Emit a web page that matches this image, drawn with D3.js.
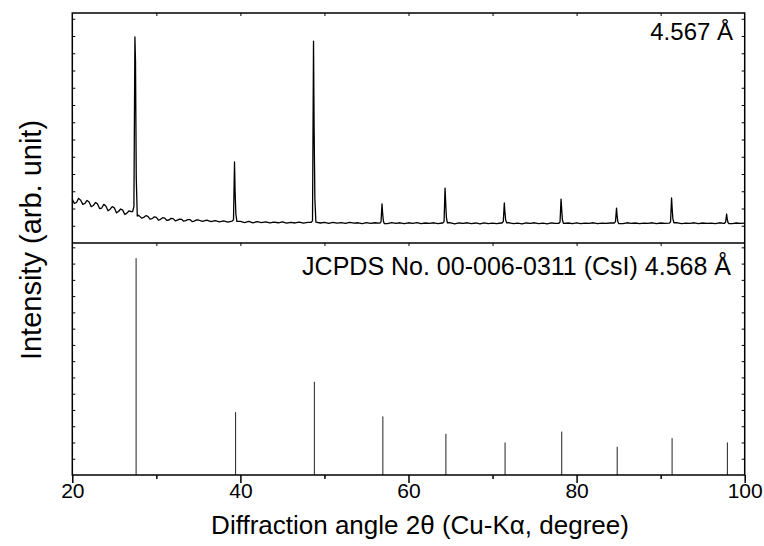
<!DOCTYPE html>
<html>
<head>
<meta charset="utf-8">
<script src="https://cdn.jsdelivr.net/npm/d3@7"></script>
<style>
  body { margin: 0; background: #fff; }
  text { font-family: "Liberation Sans", Arial, sans-serif; fill: #000; }
</style>
</head>
<body>
<div id="chart"></div>
<script>
var w = 764; var h = 546;

// measured scan, 20 - 100 deg every 0.5 deg (counts)
var scanStart = 20, scanStep = 0.5;
var scanCounts = [
	190,176,186,172,178,163,170,152,160,147,
	153,137,143,130,136,128,117,111,116,106,
	111,103,108,100,106,99,103,97,102,95,
	100,94,99,93,97,92,96,91,95,92,
	94,89,94,88,93,89,92,87,91,88,
	92,86,90,87,91,86,90,88,91,87,
	90,85,90,86,89,85,90,86,88,84,
	89,85,88,86,87,84,89,85,88,84,
	88,85,89,84,87,85,88,84,87,86,
	88,83,87,85,88,84,87,83,88,84,
	86,84,87,85,88,84,86,83,87,85,
	88,84,86,83,87,85,86,85,87,84,
	88,84,86,85,88,84,86,85,87,85,
	86,84,88,85,87,84,86,85,88,84,
	87,85,86,85,88,84,86,85,88,84,
	87,85,86,84,88,85,86,84,87,85,
	86
];
// in-between readings of the noisy low-angle part, 20.25 - 34.75 deg
var fineStart = 20.25, fineStep = 0.5;
var fineCounts = [
	172,194,168,185,158,176,150,168,140,158,
	131,148,124,140,128,122,108,119,104,114,
	99,110,98,107,96,104,95,102,93,100
];

// measured peaks (top panel)
var peakAngles = [27.45, 39.3, 48.7, 56.85, 64.35, 71.4, 78.15, 84.75, 91.3, 97.85];
var peakTops = [896, 353, 878, 170, 239, 174, 191, 152, 196, 126];
var peakShoulders = [790, 222, 500, 130, 178, 135, 150, 118, 150, 105];

// JCPDS 00-006-0311 reference lines (bottom panel)
var refAngles = [27.59, 39.43, 48.8, 56.95, 64.45, 71.49, 78.23, 84.83, 91.36, 97.94];
var refHeights = [100, 29, 43, 27, 19, 15, 20, 13, 17, 15];

var xTicks = [20, 40, 60, 80, 100];
var xMinor = [30, 50, 70, 90];

var pLeft = 72.3, pRight = 744.7, pTop = 13, pMid = 243, pBottom = 475;

var x = d3.scaleLinear().domain([20, 100]).range([pLeft, pRight]);
var yTop = d3.scaleLinear().domain([0, 1000]).range([pMid, pTop]);
var yBot = d3.scaleLinear().domain([0, 107]).range([pBottom, pMid]);

var svg = d3.select('#chart')
			.append('svg')
			.attr('width', w)
			.attr('height', h);

// build the scan line points
var pts = [];
function addScan(counts, start, step) {
	counts.forEach(function(c, i) {
		var a = start + i * step;
		var near = peakAngles.some(function(p) { return Math.abs(a - p) <= 0.3; });
		if (!near) pts.push([a, c]);
	});
}
addScan(scanCounts, scanStart, scanStep);
addScan(fineCounts, fineStart, fineStep);

peakAngles.forEach(function(a, i) {
	var iL = Math.floor((a - 0.3 - scanStart) / scanStep);
	var iR = Math.ceil((a + 0.3 - scanStart) / scanStep);
	var bL = scanCounts[iL], bR = scanCounts[iR];
	var lift = a < 30 ? 22 : 6;
	pts.push([a - 0.28, bL]);
	pts.push([a - 0.12, bL + lift]);
	pts.push([a, peakTops[i]]);
	pts.push([a + 0.07, peakShoulders[i]]);
	pts.push([a + 0.16, bR + (peakShoulders[i] - bR) * 0.25]);
	pts.push([a + 0.28, bR]);
});
pts.sort(function(p, q) { return p[0] - q[0]; });

var line = d3.line()
			.x(function(d) { return x(d[0]); })
			.y(function(d) { return yTop(d[1]); });

svg.append('path')
	.datum(pts)
	.attr('d', line)
	.attr('fill', 'none')
	.attr('stroke', '#000')
	.attr('stroke-width', 1.3)
	.attr('stroke-linejoin', 'round');

// reference sticks
svg.selectAll('line.stick')
	.data(refAngles)
	.enter()
	.append('line')
	.attr('class', 'stick')
	.attr('x1', function(d) { return x(d); })
	.attr('x2', function(d) { return x(d); })
	.attr('y1', yBot(0))
	.attr('y2', function(d, i) { return yBot(refHeights[i]); })
	.attr('stroke', '#222')
	.attr('stroke-width', 1);

// frame and divider
svg.append('rect')
	.attr('x', pLeft).attr('y', pTop)
	.attr('width', pRight - pLeft).attr('height', pBottom - pTop)
	.attr('fill', 'none').attr('stroke', '#000').attr('stroke-width', 1.5);
svg.append('line')
	.attr('x1', pLeft).attr('x2', pRight)
	.attr('y1', pMid).attr('y2', pMid)
	.attr('stroke', '#000').attr('stroke-width', 1.5);

function noDomain(g) { g.select('.domain').remove(); }

// bottom axis
svg.append('g')
	.attr('transform', 'translate(0,' + pBottom + ')')
	.call(d3.axisBottom(x).tickValues(xTicks).tickSize(8).tickPadding(3))
	.call(noDomain)
	.call(function(g) {
		g.selectAll('line').attr('stroke', '#000').attr('stroke-width', 1.5);
		g.selectAll('text').attr('font-size', 21).attr('fill', '#000')
			.attr('font-family', '"Liberation Sans", Arial, sans-serif')
			.attr('dy', null).attr('y', 23);
	});
svg.append('g')
	.attr('transform', 'translate(0,' + pBottom + ')')
	.call(d3.axisBottom(x).tickValues(xMinor).tickSize(4).tickFormat(''))
	.call(noDomain)
	.selectAll('line').attr('stroke', '#000').attr('stroke-width', 1.5);

// small inward ticks on the other edges
[pTop, pMid].forEach(function(yy) {
	svg.append('g')
		.attr('transform', 'translate(0,' + yy + ')')
		.call(d3.axisTop(x).tickValues(d3.range(30, 100, 10)).tickSize(-3).tickFormat(''))
		.call(noDomain)
		.selectAll('line').attr('stroke', '#000');
});
[[pLeft, 1], [pRight, -1]].forEach(function(s) {
	svg.append('g')
		.attr('transform', 'translate(' + s[0] + ',0)')
		.call(d3.axisLeft(yTop).tickValues(d3.range(75, 1000, 75)).tickSize(-3 * s[1]).tickFormat(''))
		.call(noDomain)
		.selectAll('line').attr('stroke', '#000');
	svg.append('g')
		.attr('transform', 'translate(' + s[0] + ',0)')
		.call(d3.axisLeft(yBot).tickValues(d3.range(7.5, 107, 7.5)).tickSize(-3 * s[1]).tickFormat(''))
		.call(noDomain)
		.selectAll('line').attr('stroke', '#000');
});

// annotations
svg.append('text')
	.attr('x', 733).attr('y', 40)
	.attr('text-anchor', 'end')
	.attr('font-size', 24)
	.text('4.567 Å');
svg.append('text')
	.attr('x', 731).attr('y', 275)
	.attr('text-anchor', 'end')
	.attr('font-size', 25)
	.text('JCPDS No. 00-006-0311 (CsI) 4.568 Å');

// axis titles
svg.append('text')
	.attr('x', 420).attr('y', 534)
	.attr('text-anchor', 'middle')
	.attr('font-size', 26)
	.text('Diffraction angle 2θ (Cu-Kα, degree)');
svg.append('text')
	.attr('transform', 'translate(41,240) rotate(-90)')
	.attr('text-anchor', 'middle')
	.attr('font-size', 29)
	.text('Intensity (arb. unit)');
</script>
</body>
</html>
